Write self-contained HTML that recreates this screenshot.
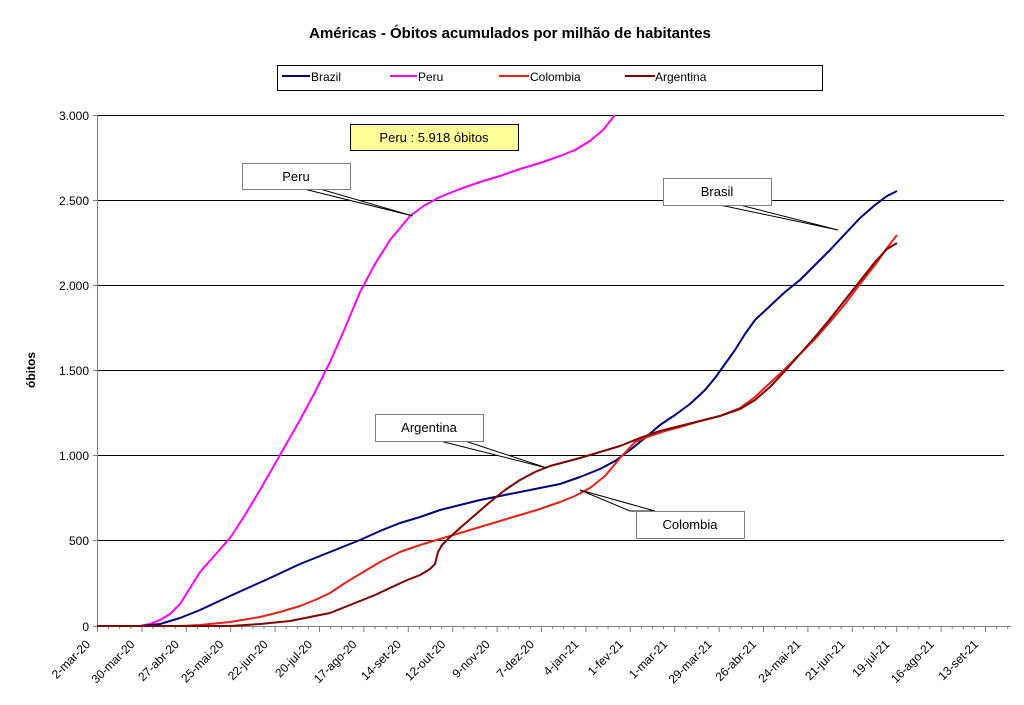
<!DOCTYPE html>
<html><head><meta charset="utf-8"><style>
body{margin:0;background:#fff;}
svg{display:block;font-family:"Liberation Sans",Arial,sans-serif;}
</style></head><body>
<svg width="1024" height="705" viewBox="0 0 1024 705" xmlns="http://www.w3.org/2000/svg">
<rect width="1024" height="705" fill="#fff"/>
<text x="510" y="38" font-size="15" font-weight="bold" text-anchor="middle" fill="#000">Américas - Óbitos acumulados por milhão de habitantes</text>
<rect x="277.5" y="65.5" width="545" height="25" fill="#fff" stroke="#000"/>
<line x1="282" y1="76" x2="310" y2="76" stroke="#000080" stroke-width="2"/>
<text x="311" y="81" font-size="12">Brazil</text>
<line x1="390" y1="76" x2="417" y2="76" stroke="#ff00ff" stroke-width="2"/>
<text x="418" y="81" font-size="12">Peru</text>
<line x1="499" y1="76" x2="529" y2="76" stroke="#e8201a" stroke-width="2"/>
<text x="530" y="81" font-size="12">Colombia</text>
<line x1="625" y1="76" x2="655" y2="76" stroke="#800000" stroke-width="2"/>
<text x="655" y="81" font-size="12">Argentina</text>
<g stroke="#000" stroke-width="1">
<line x1="97" y1="115.5" x2="1004" y2="115.5"/>
<line x1="97" y1="200.5" x2="1004" y2="200.5"/>
<line x1="97" y1="285.5" x2="1004" y2="285.5"/>
<line x1="97" y1="370.5" x2="1004" y2="370.5"/>
<line x1="97" y1="455.5" x2="1004" y2="455.5"/>
<line x1="97" y1="540.5" x2="1004" y2="540.5"/>
</g>
<line x1="97.5" y1="115" x2="97.5" y2="626" stroke="#808080"/>
<line x1="97" y1="626.5" x2="1011" y2="626.5" stroke="#808080"/>
<path stroke="#808080" fill="none" d="M93 115.5h4M93 200.5h4M93 285.5h4M93 370.5h4M93 455.5h4M93 540.5h4M93 626.5h4
M97.5 626v6M141.9 626v6M186.3 626v6M230.7 626v6M275.1 626v6M319.5 626v6M363.9 626v6M408.3 626v6M452.7 626v6M497.1 626v6M541.5 626v6M585.9 626v6M630.3 626v6M674.7 626v6M719.1 626v6M763.5 626v6M807.9 626v6M852.3 626v6M896.7 626v6M941.1 626v6M985.5 626v6
M108.6 626v3M119.7 626v3M130.8 626v3M153 626v3M164.1 626v3M175.2 626v3M197.4 626v3M208.5 626v3M219.6 626v3M241.8 626v3M252.9 626v3M264 626v3M286.2 626v3M297.3 626v3M308.4 626v3M330.6 626v3M341.7 626v3M352.8 626v3M375 626v3M386.1 626v3M397.2 626v3M419.4 626v3M430.5 626v3M441.6 626v3M463.8 626v3M474.9 626v3M486 626v3M508.2 626v3M519.3 626v3M530.4 626v3M552.6 626v3M563.7 626v3M574.8 626v3M597 626v3M608.1 626v3M619.2 626v3M641.4 626v3M652.5 626v3M663.6 626v3M685.8 626v3M696.9 626v3M708 626v3M730.2 626v3M741.3 626v3M752.4 626v3M774.6 626v3M785.7 626v3M796.8 626v3M819 626v3M830.1 626v3M841.2 626v3M863.4 626v3M874.5 626v3M885.6 626v3M907.8 626v3M918.9 626v3M930 626v3M952.2 626v3M963.3 626v3M974.4 626v3M996.6 626v3M1007.7 626v3"/>
<g font-size="12" text-anchor="end" fill="#000">
<text x="89" y="120">3.000</text><text x="89" y="205">2.500</text><text x="89" y="290">2.000</text><text x="89" y="375">1.500</text><text x="89" y="460">1.000</text><text x="89" y="545">500</text><text x="89" y="631">0</text>
</g>
<text transform="translate(35,370) rotate(-90)" font-size="12" font-weight="bold" text-anchor="middle">óbitos</text>
<g font-size="12" text-anchor="end" fill="#000">
<text transform="translate(91,645) rotate(-45)">2-mar-20</text>
<text transform="translate(135.4,645) rotate(-45)">30-mar-20</text>
<text transform="translate(179.8,645) rotate(-45)">27-abr-20</text>
<text transform="translate(224.2,645) rotate(-45)">25-mai-20</text>
<text transform="translate(268.6,645) rotate(-45)">22-jun-20</text>
<text transform="translate(313,645) rotate(-45)">20-jul-20</text>
<text transform="translate(357.4,645) rotate(-45)">17-ago-20</text>
<text transform="translate(401.8,645) rotate(-45)">14-set-20</text>
<text transform="translate(446.2,645) rotate(-45)">12-out-20</text>
<text transform="translate(490.6,645) rotate(-45)">9-nov-20</text>
<text transform="translate(535,645) rotate(-45)">7-dez-20</text>
<text transform="translate(579.4,645) rotate(-45)">4-jan-21</text>
<text transform="translate(623.8,645) rotate(-45)">1-fev-21</text>
<text transform="translate(668.2,645) rotate(-45)">1-mar-21</text>
<text transform="translate(712.6,645) rotate(-45)">29-mar-21</text>
<text transform="translate(757,645) rotate(-45)">26-abr-21</text>
<text transform="translate(801.4,645) rotate(-45)">24-mai-21</text>
<text transform="translate(845.8,645) rotate(-45)">21-jun-21</text>
<text transform="translate(890.2,645) rotate(-45)">19-jul-21</text>
<text transform="translate(934.6,645) rotate(-45)">16-ago-21</text>
<text transform="translate(979,645) rotate(-45)">13-set-21</text>
</g>
<g fill="none" stroke-width="2" stroke-linejoin="round">
<polyline stroke="#ff00ff" points="97,626 140,626 150,624 160,620 170,614 180,604 190,588 200,572 215,555 230,538 245,515 260,490 280,455 300,420 315,392 330,362 345,328 360,292 375,264 390,240 400,228 410,216 425,205 440,197 460,189 480,182 500,176 520,169 540,163 560,156 575,150 590,141 603,130 615,115"/>
<polyline stroke="#000080" points="97,626 140,626 160,624 180,618 200,610 215,603 230,596 250,587 270,578 300,564 330,552 360,540 380,531 400,523 420,517 440,510 460,505 480,500 500,496 520,492 540,488 560,484 580,477 600,469 615,461 630,450 645,438 660,425 675,415 690,404 705,390 715,378 725,364 735,350 745,334 755,320 770,306 785,292 800,280 815,265 830,250 845,234 860,218 875,205 887,196 897,191"/>
<polyline stroke="#e8201a" points="97,626 180,626 200,625 230,622 260,617 280,612 300,606 315,600 330,593 345,583 360,574 380,562 400,552 420,545 440,539 460,533 480,527 500,521 520,515 540,509 560,502 575,496 590,488 605,476 620,458 635,442 650,436 665,431 680,427 700,421 720,416 740,408 755,397 770,383 785,369 800,354 815,339 830,322 845,304 860,284 875,265 887,248 897,235"/>
<polyline stroke="#800000" points="97,626 230,626 260,624 290,621 310,617 330,613 345,607 360,601 375,595 390,588 405,581 420,575 430,569 435,564 438,552 442,545 450,537 460,528 475,515 490,502 505,490 520,480 535,472 550,466 565,462 580,458 600,452 620,446 640,438 660,431 680,426 700,421 720,416 740,409 755,400 770,387 785,371 800,354 815,337 830,319 845,300 860,281 875,262 887,249 897,243"/>
</g>
<g stroke="#000" stroke-width="1">
<rect x="350.5" y="124.5" width="168" height="26" fill="#ffff99"/>
<polygon points="304,189 413,216 320,189" fill="#fff"/>
<rect x="242.5" y="163.5" width="108" height="26" fill="#fff" stroke="#808080"/>
<polygon points="720,205 838,230 740,205" fill="#fff"/>
<rect x="663.5" y="178.5" width="108" height="27" fill="#fff" stroke="#808080"/>
<polygon points="440,441 547,468 465,441" fill="#fff"/>
<rect x="375.5" y="414.5" width="108" height="27" fill="#fff" stroke="#808080"/>
<polygon points="655,511 580,490 630,511" fill="#fff"/>
<rect x="636.5" y="511.5" width="108" height="27" fill="#fff" stroke="#808080"/>
</g>
<g font-size="13" text-anchor="middle" fill="#000">
<text x="434" y="142">Peru : 5.918 óbitos</text>
<text x="296" y="181">Peru</text>
<text x="717" y="196">Brasil</text>
<text x="429" y="432">Argentina</text>
<text x="690" y="529">Colombia</text>
</g>
</svg>
</body></html>
